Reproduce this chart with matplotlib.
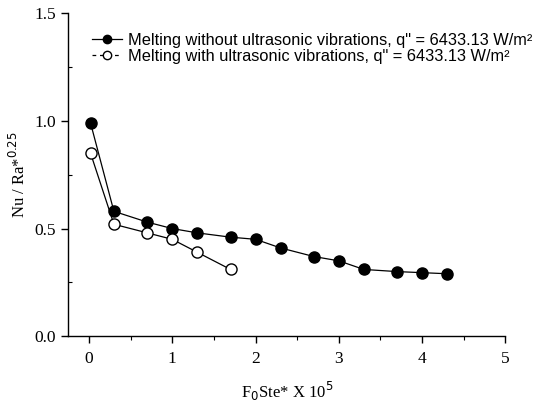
import matplotlib
matplotlib.use("Agg")
import matplotlib.pyplot as plt
from matplotlib.lines import Line2D
from matplotlib.ticker import MultipleLocator

# Nu/Ra*^0.25 vs Fo Ste* x 1e5
x_without = [0.02, 0.3, 0.7, 1.0, 1.3, 1.7, 2.0, 2.3, 2.7, 3.0, 3.3, 3.7, 4.0, 4.3]
y_without = [0.99, 0.58, 0.53, 0.50, 0.48, 0.46, 0.45, 0.41, 0.37, 0.35, 0.31, 0.30, 0.295, 0.29]
x_with = [0.02, 0.3, 0.7, 1.0, 1.3, 1.7]
y_with = [0.85, 0.52, 0.48, 0.45, 0.39, 0.31]

label_without = 'Melting without ultrasonic vibrations, q" = 6433.13 W/m²'
label_with = 'Melting with ultrasonic vibrations, q" = 6433.13 W/m²'

serif = "Liberation Serif"
sans = "Liberation Sans"

fig = plt.figure(figsize=(5.36, 4.05), dpi=100)
ax = fig.add_axes([0.127, 0.170, 0.816, 0.797])

ax.plot(x_without, y_without, "-", color="black", lw=0.9, marker="o", ms=8,
        mfc="black", mec="black")
ax.plot(x_with, y_with, "-", color="black", lw=0.9, marker="o", ms=8,
        mfc="white", mec="black", mew=1.0)

ax.set_xlim(-0.25, 5)
ax.set_ylim(0, 1.5)
ax.xaxis.set_major_locator(MultipleLocator(1))
ax.xaxis.set_minor_locator(MultipleLocator(0.5))
ax.yaxis.set_major_locator(MultipleLocator(0.5))
ax.yaxis.set_minor_locator(MultipleLocator(0.25))
ax.yaxis.set_major_formatter(plt.FormatStrFormatter("%.1f"))

for side in ("top", "right"):
    ax.spines[side].set_visible(False)
for side in ("left", "bottom"):
    ax.spines[side].set_linewidth(1.0)

ax.tick_params(which="major", direction="out", length=5, width=1.0, labelsize=12.5)
ax.tick_params(axis="x", which="major", pad=6)
ax.tick_params(axis="x", which="minor", direction="out", length=3, width=0.8)
ax.tick_params(axis="y", which="minor", direction="in", length=3, width=0.8)
for lab in ax.get_xticklabels() + ax.get_yticklabels():
    lab.set_fontfamily(serif)

ax.set_xlabel(r"F$_0$Ste* X 10$^5$", fontfamily=serif, fontsize=12, labelpad=9)
ax.set_ylabel(r"Nu / Ra*$^{0.25}$", fontfamily=serif, fontsize=12, labelpad=4)

handles = [
    Line2D([], [], color="black", lw=0.9, marker="o", ms=6, mfc="black"),
    Line2D([], [], color="black", lw=0.9, ls=(0, (3, 3)), marker="o", ms=6,
           mfc="white"),
]
ax.legend(handles, [label_without, label_with], loc="upper left",
          bbox_to_anchor=(0.055, 0.94), borderaxespad=0, borderpad=0,
          frameon=False, handlelength=1.8, handletextpad=0.4, labelspacing=0.05,
          prop={"family": sans, "size": 11.8})

fig.savefig("out.png", dpi=100)
